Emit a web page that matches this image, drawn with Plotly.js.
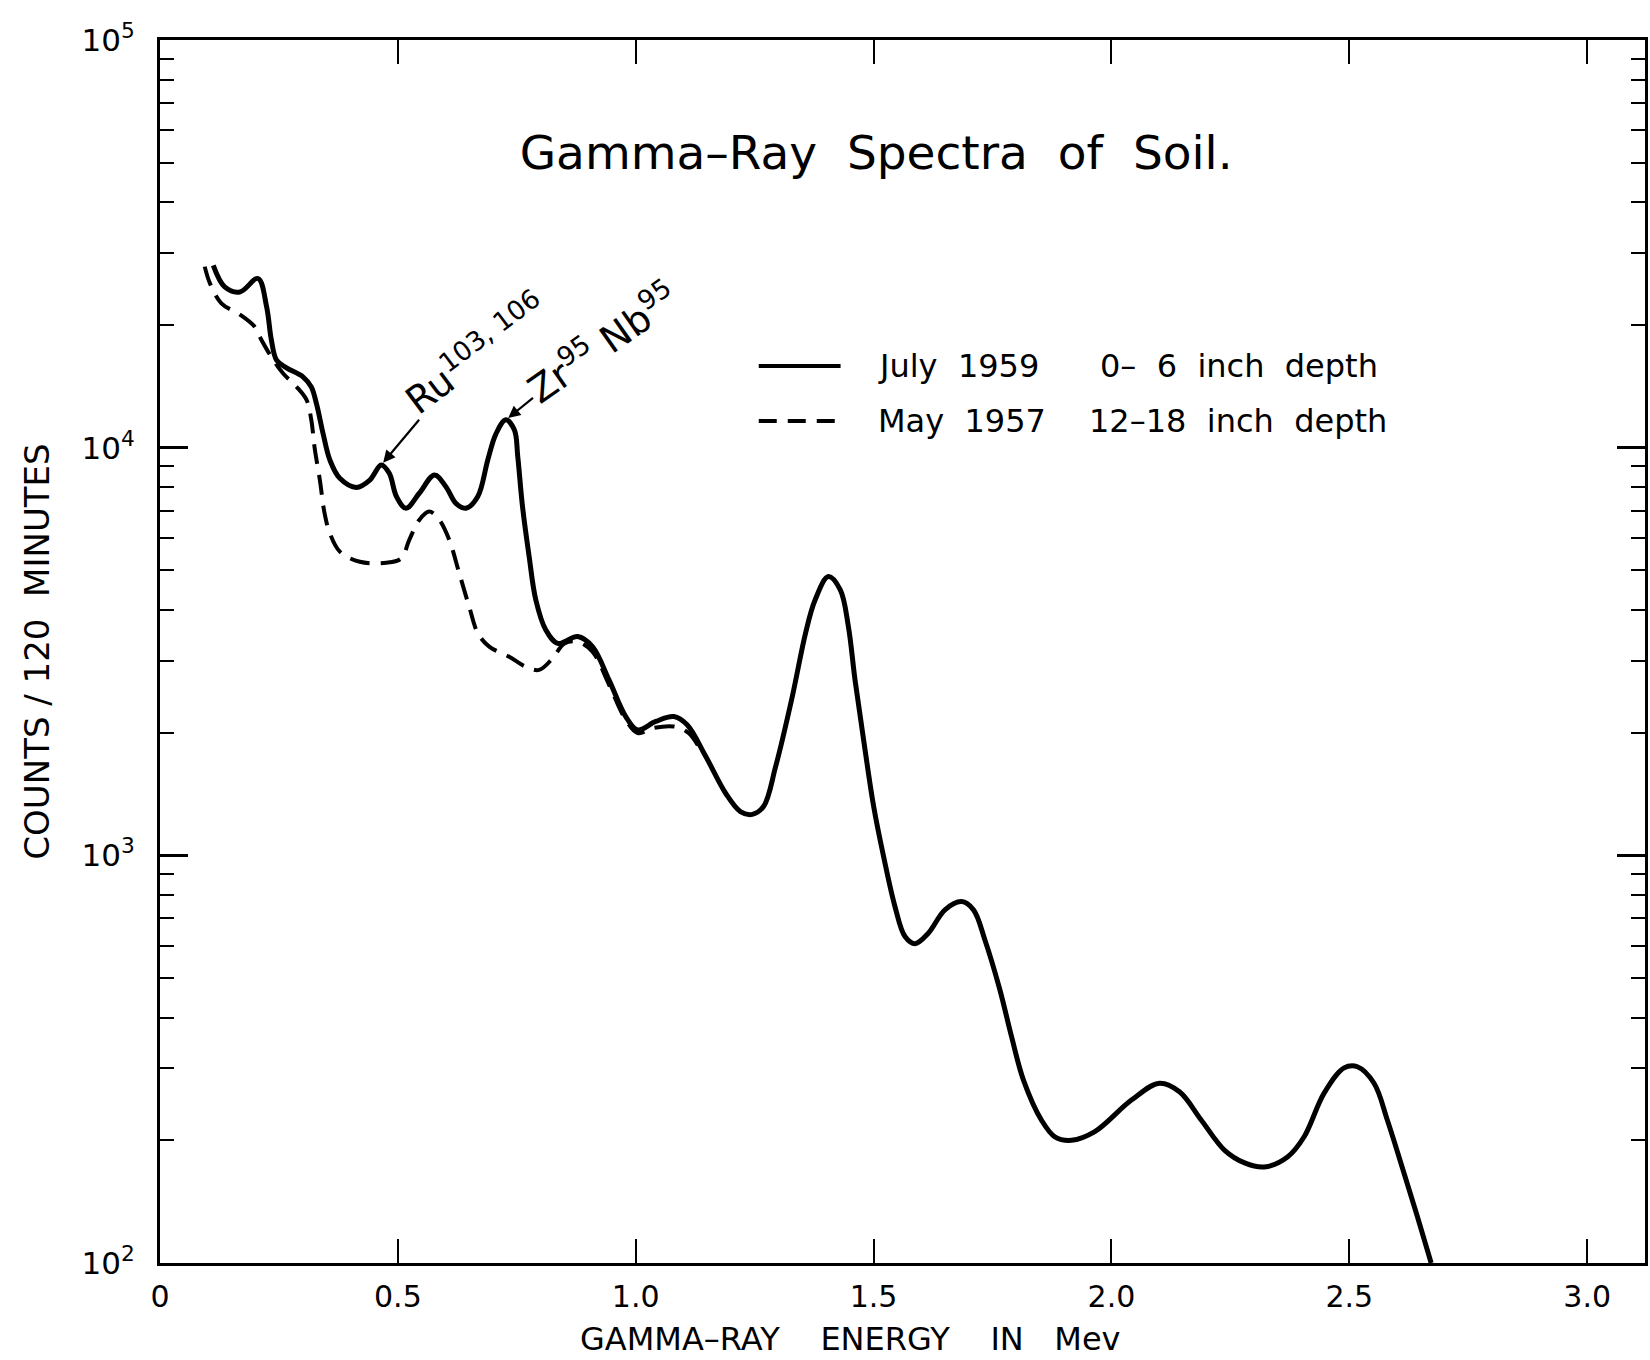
<!DOCTYPE html>
<html>
<head>
<meta charset="utf-8">
<script src="https://cdn.plot.ly/plotly-3.0.1.min.js"></script>
<style>
  html, body { margin: 0; padding: 0; background: #ffffff; }
  #chart { width: 1650px; height: 1360px; }
</style>
</head>
<body>
<div id="chart"></div>
<script>
// ---- Data (energy in MeV, counts per 120 minutes) ----
const julyEnergy = [0.112, 0.136, 0.168, 0.206, 0.224, 0.234, 0.245, 0.266, 0.301, 0.318,
  0.329, 0.343, 0.357, 0.378, 0.413, 0.441, 0.465, 0.482, 0.497, 0.517,
  0.545, 0.577, 0.601, 0.622, 0.643, 0.668, 0.689, 0.706, 0.727, 0.745,
  0.752, 0.762, 0.776, 0.790, 0.811, 0.836, 0.878, 0.909, 0.944, 0.979,
  1.004, 1.042, 1.080, 1.108, 1.147, 1.189, 1.220, 1.245, 1.269, 1.294,
  1.329, 1.357, 1.377, 1.405, 1.430, 1.447, 1.461, 1.479, 1.500, 1.521,
  1.545, 1.566, 1.587, 1.615, 1.650, 1.685, 1.710, 1.734, 1.765, 1.790,
  1.815, 1.853, 1.881, 1.916, 1.965, 2.042, 2.101, 2.143, 2.189, 2.238,
  2.280, 2.321, 2.370, 2.405, 2.447, 2.489, 2.517, 2.552, 2.580, 2.615,
  2.643, 2.672];
const julyCounts = [28000, 24800, 24100, 26000, 22200, 18400, 16400, 15700, 14900, 14100,
  12800, 10800, 9330, 8410, 7990, 8330, 9070, 8650, 7590, 7100,
  7730, 8570, 8020, 7300, 7100, 7590, 9330, 10800, 11700, 11050,
  9510, 7170, 5400, 4230, 3570, 3310, 3440, 3250, 2690, 2190,
  2030, 2130, 2190, 2090, 1750, 1420, 1280, 1260, 1320, 1650,
  2450, 3510, 4230, 4830, 4480, 3640, 2690, 1920, 1320, 993,
  748, 632, 607, 644, 735, 770, 735, 620, 470, 359,
  281, 224, 204, 200, 210, 251, 276, 263, 224, 189,
  176, 172, 182, 204, 261, 301, 303, 276, 224, 166,
  130, 100];

const mayEnergy = [0.094, 0.105, 0.129, 0.168, 0.199, 0.213, 0.234, 0.259, 0.287, 0.308,
  0.318, 0.325, 0.336, 0.346, 0.357, 0.378, 0.420, 0.476, 0.507, 0.524,
  0.545, 0.566, 0.587, 0.608, 0.629, 0.650, 0.668, 0.692, 0.734, 0.769,
  0.797, 0.825, 0.850, 0.878, 0.909, 0.944, 0.979, 1.004, 1.035, 1.080,
  1.111, 1.140];
const mayCounts = [27800, 25300, 22600, 21200, 19800, 18400, 16700, 15200, 14100, 13100,
  11700, 10000, 8330, 6900, 6170, 5560, 5250, 5220, 5350, 5940,
  6650, 6970, 6650, 5940, 4920, 4070, 3510, 3250, 3070, 2900,
  2850, 3040, 3310, 3340, 3160, 2620, 2150, 1995, 2050, 2070,
  1995, 1780];

const xTickValues = [0, 0.5, 1.0, 1.5, 2.0, 2.5, 3.0];
const xTickLabels = ["0", "0.5", "1.0", "1.5", "2.0", "2.5", "3.0"];
const yTickValues = [100, 1000, 10000, 100000];
const yTickLabels = ["10<sup>2</sup>", "10<sup>3</sup>", "10<sup>4</sup>", "10<sup>5</sup>"];

const seriesNames = ["July 1959", "May 1957"];
const seriesDepths = ["0\u2013 6 inch depth", "12\u201318 inch depth"];
const peakLabels = ["Ru<sup>103, 106</sup>", "Zr<sup>95</sup> Nb<sup>95</sup>"];

// minor log ticks 2..9 in each decade
const yMinor = [];
for (let d = 2; d < 5; d++) for (let m = 2; m <= 9; m++) yMinor.push(m * Math.pow(10, d));

function peakNear(xs, ys, lo, hi) {
  let best = -1;
  for (let i = 0; i < xs.length; i++) {
    if (xs[i] >= lo && xs[i] <= hi && (best < 0 || ys[i] > ys[best])) best = i;
  }
  return { x: xs[best], y: Math.log10(ys[best]) };
}
const ruPeak = peakNear(julyEnergy, julyCounts, 0.44, 0.49);
const zrPeak = peakNear(julyEnergy, julyCounts, 0.70, 0.76);

const FONT = "DejaVu Sans, Liberation Sans, sans-serif";
const NB = "\u00a0";
const spaced = s => s.replace(/ /g, NB + NB);

const traces = [
  {
    x: julyEnergy, y: julyCounts, name: seriesNames[0] + " " + seriesDepths[0],
    type: "scatter", mode: "lines", showlegend: false,
    line: { color: "#000000", width: 5, shape: "spline", smoothing: 1 }
  },
  {
    x: mayEnergy, y: mayCounts, name: seriesNames[1] + " " + seriesDepths[1],
    type: "scatter", mode: "lines", showlegend: false,
    line: { color: "#000000", width: 4, dash: "20px,11px", shape: "spline", smoothing: 1 }
  }
];

const legendRowY = [0.7334, 0.6885];

const layout = {
  width: 1650, height: 1360,
  margin: { l: 160, r: 2, t: 40, b: 97 },
  paper_bgcolor: "#ffffff", plot_bgcolor: "#ffffff",
  font: { family: FONT, color: "#000000" },
  showlegend: false,
  title: {
    text: "Gamma\u2013Ray" + NB + NB + "Spectra" + NB + NB + "of" + NB + NB + "Soil.",
    font: { family: FONT, size: 47, color: "#000000" },
    x: 0.531, xref: "container", xanchor: "center",
    y: 0.888, yref: "container", yanchor: "middle"
  },
  xaxis: {
    range: [0, 3.1215],
    tickmode: "array", tickvals: xTickValues, ticktext: xTickLabels,
    ticks: "inside", ticklen: 24, tickwidth: 2, tickcolor: "#000000",
    mirror: "ticks", showline: true, linewidth: 3, linecolor: "#000000",
    showgrid: false, zeroline: false,
    tickfont: { family: FONT, size: 30, color: "#000000" },
    ticklabelstandoff: 5
  },
  yaxis: {
    type: "log", range: [2, 5],
    tickmode: "array", tickvals: yTickValues, ticktext: yTickLabels,
    ticks: "inside", ticklen: 28, tickwidth: 2.5, tickcolor: "#000000",
    minor: { tickmode: "array", tickvals: yMinor, ticks: "inside", ticklen: 14, tickwidth: 2, tickcolor: "#000000", showgrid: false },
    mirror: "ticks", showline: true, linewidth: 3, linecolor: "#000000",
    showgrid: false, zeroline: false,
    tickfont: { family: FONT, size: 31, color: "#000000" },
    ticklabelstandoff: 16,
    automargin: true,
    title: {
      text: "COUNTS" + NB + "/" + NB + "120" + NB + NB + "MINUTES",
      font: { family: FONT, size: 34, color: "#000000" },
      standoff: 22
    }
  },
  shapes: [
    { type: "line", xref: "paper", yref: "paper", x0: 0.4032, x1: 0.4583, y0: legendRowY[0], y1: legendRowY[0],
      line: { color: "#000000", width: 4 } },
    { type: "line", xref: "paper", yref: "paper", x0: 0.4032, x1: 0.4583, y0: legendRowY[1], y1: legendRowY[1],
      line: { color: "#000000", width: 4, dash: "18px,11px" } }
  ],
  annotations: [
    { xref: "paper", yref: "paper", x: 0.4819, y: legendRowY[0], xanchor: "left", yanchor: "middle",
      text: seriesNames[0].replace(/ /g, NB + NB), showarrow: false, font: { family: FONT, size: 32, color: "#000000" } },
    { xref: "paper", yref: "paper", x: 0.6317, y: legendRowY[0], xanchor: "left", yanchor: "middle",
      text: spaced(seriesDepths[0]), showarrow: false, font: { family: FONT, size: 32, color: "#000000" } },
    { xref: "paper", yref: "paper", x: 0.4819, y: legendRowY[1], xanchor: "left", yanchor: "middle",
      text: seriesNames[1].replace(/ /g, NB + NB), showarrow: false, font: { family: FONT, size: 32, color: "#000000" } },
    { xref: "paper", yref: "paper", x: 0.6243, y: legendRowY[1], xanchor: "left", yanchor: "middle",
      text: spaced(seriesDepths[1]), showarrow: false, font: { family: FONT, size: 32, color: "#000000" } },
    { xref: "paper", yref: "paper", x: 0.465, y: -0.062, xanchor: "center", yanchor: "middle",
      text: "GAMMA\u2013RAY" + NB + NB + NB + NB + "ENERGY" + NB + NB + NB + NB + "IN" + NB + NB + NB + "Mev",
      showarrow: false, font: { family: FONT, size: 32, color: "#000000" } },
    { x: ruPeak.x, y: ruPeak.y, xref: "x", yref: "y", text: peakLabels[0], textangle: -37,
      showarrow: true, ax: 94, ay: -112, arrowhead: 2, arrowsize: 1.1, arrowwidth: 2.2, arrowcolor: "#000000",
      standoff: 3, font: { family: FONT, size: 38, color: "#000000" } },
    { x: zrPeak.x, y: zrPeak.y, xref: "x", yref: "y", text: peakLabels[1], textangle: -35,
      showarrow: true, ax: 96, ay: -78, arrowhead: 2, arrowsize: 1.1, arrowwidth: 2.2, arrowcolor: "#000000",
      standoff: 3, font: { family: FONT, size: 38, color: "#000000" } }
  ]
};

Plotly.newPlot("chart", traces, layout, { displayModeBar: false, staticPlot: true });
</script>
</body>
</html>
